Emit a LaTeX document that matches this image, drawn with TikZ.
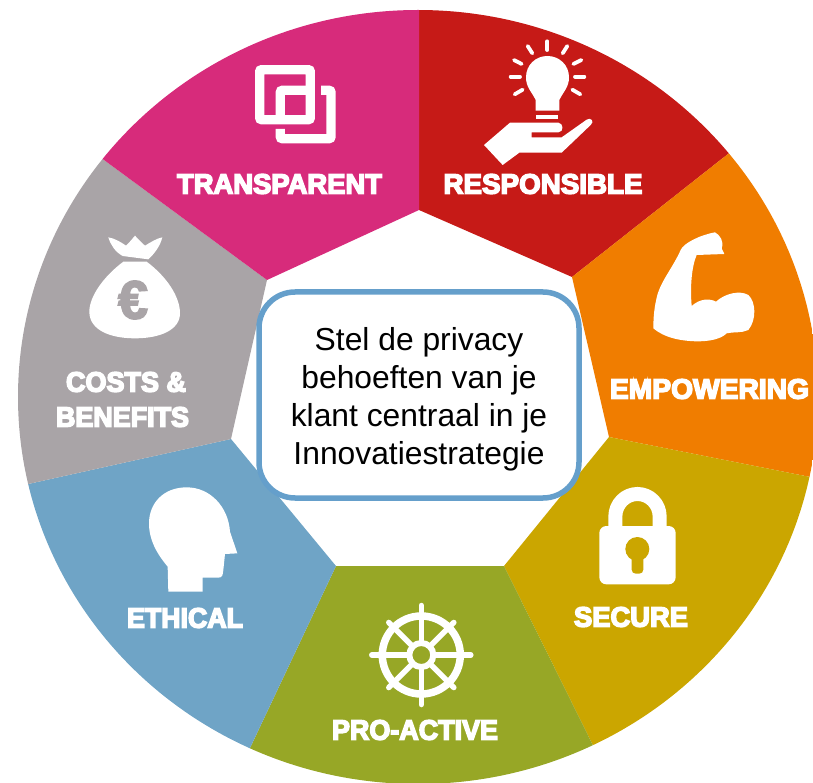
\documentclass[tikz,border=0pt]{standalone}
\usepackage{fontspec}
\usepackage{graphicx}
\setmainfont{Liberation Sans}
\newfontfamily\labfont[FakeBold=5.5]{Liberation Sans Bold}
\newfontfamily\eurofont[FakeBold=3]{Liberation Sans Bold}
\definecolor{cred}{HTML}{C61A17}
\definecolor{corange}{HTML}{F07D00}
\definecolor{cgold}{HTML}{CBA600}
\definecolor{colive}{HTML}{97A726}
\definecolor{cblue}{HTML}{6FA4C6}
\definecolor{cgray}{HTML}{A9A4A7}
\definecolor{cpink}{HTML}{D72B7B}
\definecolor{cborder}{HTML}{659FCB}
\newcommand{\lab}[2]{\resizebox{#1pt}{19.5pt}{\labfont\fontsize{27}{27}\selectfont #2}}
\tikzset{
  seglabel/.style={inner sep=0pt,outer sep=0pt,text=white,anchor=center},
  iconline/.style={draw=white,line cap=round,fill=none},
  squareline/.style={draw=white,line width=9.3pt,rounded corners=2pt},
  centerbox/.style={draw=cborder,line width=5.5pt,fill=white,rounded corners=36pt},
}
\begin{document}
\begin{tikzpicture}[x=1pt,y=-1pt]
\useasboundingbox (0,0) rectangle (813,783);
\clip (0,0) rectangle (813,783);
% segments
\begin{scope}
\clip (418,397) ellipse [x radius=400, y radius=387];
\fill[cred] (419,210) -- (419,-50) -- (884,31) -- (572,277) -- cycle;
\fill[corange] (572,277) -- (884,31) -- (911,497) -- (609,437) -- cycle;
\fill[cgold] (609,437) -- (911,497) -- (637,834) -- (504,566) -- cycle;
\fill[colive] (504,566) -- (637,834) -- (207,839) -- (336,566) -- cycle;
\fill[cblue] (336,566) -- (207,839) -- (-71,506) -- (231,439) -- cycle;
\fill[cgray] (231,439) -- (-71,506) -- (-59,40) -- (267,280) -- cycle;
\fill[cpink] (267,280) -- (-59,40) -- (419,-50) -- (419,210) -- cycle;
\end{scope}
% bulb and hand
\begin{scope}[shift={(420,0)},scale=1/3]
\fill[white] (347,332) -- (347,300) .. controls (335,275) and (318,262) .. (318,232) .. controls (318,195) and (347,168) .. (382,168) .. controls (418,168) and (447,195) .. (447,232) .. controls (447,262) and (430,275) .. (418,300) -- (418,332) -- cycle;
\fill[white] (347,345) rectangle (415,358);
\foreach \a/\b/\c/\d in {382/124/382/150,323/138/337/160,442/138/428/160,282/180/305/192,484/180/460/192,272/230/300/230,465/230/493/230,284/283/308/269,481/283/457/269}
  \draw[iconline,line width=3.8pt] (\a,\b) -- (\c,\d);
\fill[white] (192,435) -- (270,368) -- (415,368) .. controls (430,368) and (433,397) .. (415,397) -- (335,397) -- (335,412) -- (425,412) -- (500,359) .. controls (512,350) and (525,365) .. (512,375) -- (425,458) -- (298,458) -- (248,495) -- cycle;
\end{scope}
% arm
\begin{scope}[shift={(420,0)},scale=1/3]
\fill[white] (700,985) .. controls (700,950) and (703,920) .. (712,885) .. controls (725,840) and (760,800) .. (782,750) .. controls (790,730) and (840,705) .. (885,697) .. controls (900,705) and (913,725) .. (905,745) -- (913,762) -- (830,765) .. controls (815,800) and (810,860) .. (815,918) .. controls (840,895) and (870,895) .. (888,905) .. controls (915,880) and (960,870) .. (985,885) .. controls (1008,905) and (1010,960) .. (985,990) .. controls (965,1000) and (940,995) .. (920,1000) .. controls (890,1030) and (810,1028) .. (760,1015) .. controls (735,1008) and (715,998) .. (700,985) -- cycle;
\end{scope}
% lock
\begin{scope}[shift={(420,400)},scale=1/3]
\draw[draw=white,line width=14pt] (586,385) -- (586,350) .. controls (586,312) and (616,282) .. (652.5,282) .. controls (689,282) and (719,312) .. (719,350) -- (719,385);
\fill[white,rounded corners=7pt] (538,378) rectangle (767,553);
\fill[cgold] (652,447) circle [radius=36];
\fill[cgold,rounded corners=4pt] (635,447) rectangle (670,521);
\end{scope}
% wheel
\begin{scope}[shift={(421.3,655)}]
\draw[white,line width=7.5pt] (0,0) circle [radius=39];
\draw[white,line width=6pt] (0,0) circle [radius=12];
\foreach \r in {0,90,180,270}
  \draw[iconline,line width=5.5pt] (\r:12) -- (\r:49.5);
\foreach \r in {45,135,225,315}
  \draw[iconline,line width=5.5pt] (\r:12) -- (\r:46);
\end{scope}
% head
\begin{scope}[shift={(0,400)},scale=1/3]
\fill[white] (505,575) -- (608,575) -- (608,533) -- (655,533) .. controls (668,533) and (668,525) .. (670,510) -- (675,462) -- (712,460) -- (690,395) .. controls (685,320) and (630,262) .. (560,262) .. controls (490,262) and (447,310) .. (447,370) .. controls (447,420) and (470,460) .. (503,500) -- cycle;
\end{scope}
% money bag
\begin{scope}[scale=1/3]
\fill[white] (325,712) .. controls (345,715) and (365,728) .. (378,737) .. controls (388,728) and (398,715) .. (405,707) .. controls (412,715) and (425,728) .. (435,737) .. controls (450,728) and (470,715) .. (487,712) .. controls (480,740) and (462,762) .. (445,778) -- (368,768) .. controls (345,755) and (332,735) .. (325,712) -- cycle;
\fill[white] (370,785) -- (440,785) .. controls (500,830) and (540,890) .. (540,940) .. controls (540,990) and (480,1015) .. (405,1015) .. controls (330,1015) and (268,990) .. (268,935) .. controls (268,890) and (310,830) .. (370,785) -- cycle;
\end{scope}
\node[inner sep=0pt,text=cgray,font={\eurofont\fontsize{54}{54}\selectfont}] (euro) at (133,300) {€};
% transparent squares
\begin{scope}[shift={(245,55)},scale=1/3]
\draw[squareline] (44,44) rectangle (196,194);
\draw[squareline] (106,194) -- (106,106) -- (196,106);
\draw[squareline] (106,222) -- (106,251) -- (258,251) -- (258,106) -- (228,106);
\end{scope}
% labels
\node[seglabel] (lresp) at (543,184) {\lab{199}{RESPONSIBLE}};
\node[seglabel] (ltrans) at (279.5,184) {\lab{205}{TRANSPARENT}};
\node[seglabel] (lemp) at (709.5,389) {\lab{199}{EMPOWERING}};
\node[seglabel] (lcosts) at (126,382) {\lab{120}{COSTS \&}};
\node[seglabel] (lben) at (122.5,417) {\lab{133}{BENEFITS}};
\node[seglabel] (leth) at (185,618) {\lab{116}{ETHICAL}};
\node[seglabel] (lsec) at (631,617) {\lab{114}{SECURE}};
\node[seglabel] (lpro) at (415,730) {\lab{166}{PRO-ACTIVE}};
% centre
\draw[centerbox] (259,292) rectangle (579,498);
\node[align=center,font={\fontsize{31.8}{38}\selectfont},inner sep=0pt] (ctext) at (419,399) {Stel de privacy\\behoeften van je\\klant centraal in je\\Innovatiestrategie};
\end{tikzpicture}
\end{document}
